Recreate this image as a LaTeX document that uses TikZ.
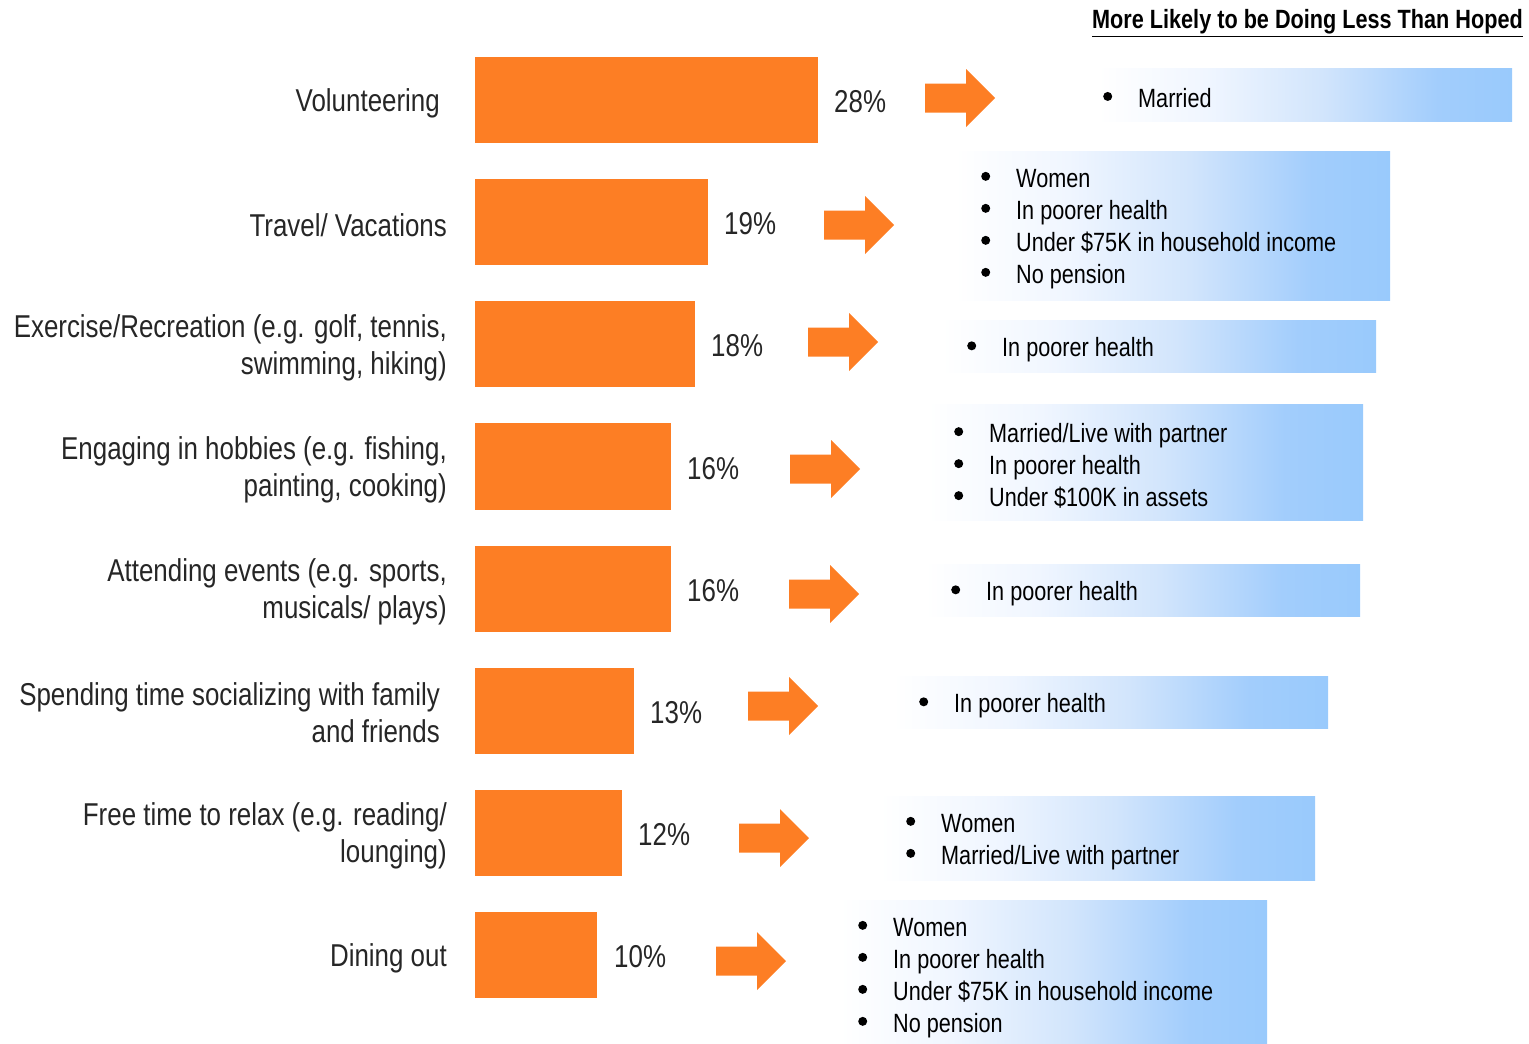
\documentclass[tikz,border=0pt]{standalone}
\usepackage{fontspec}
\setmainfont{Liberation Sans}[FakeStretch=0.82]
\definecolor{barorange}{RGB}{253,126,36}
\definecolor{labelgray}{RGB}{38,38,38}
\definecolor{lbA}{RGB}{240,246,255}
\definecolor{lbB}{RGB}{210,229,252}
\definecolor{lbC}{RGB}{162,205,252}
\definecolor{lbD}{RGB}{153,202,252}
\pgfdeclarehorizontalshading{bluefade}{100bp}{color(0bp)=(white); color(25bp)=(white); color(38bp)=(lbA); color(52bp)=(lbB); color(66bp)=(lbC); color(75bp)=(lbD); color(100bp)=(lbD)}
\tikzset{
  barfill/.style={fill=barorange, draw=none},
  actlabel/.style={anchor=east, align=right, inner sep=0pt, text=labelgray, font=\fontsize{31.6}{37}\selectfont},
  pctlabel/.style={anchor=west, inner sep=0pt, text=labelgray, font=\fontsize{31.6}{37}\selectfont},
  bullist/.style={anchor=west, align=left, inner sep=0pt, text=black, font=\fontsize{26.4}{32}\selectfont},
  bluebox/.style={shading=bluefade, draw=none},
}
\newcommand\orangearrow[2]{%
  \fill[barorange] (#1,#2-14.5) -- (#1+41,#2-14.5) -- (#1+41,#2-29) -- (#1+70,#2) -- (#1+41,#2+29) -- (#1+41,#2+14.5) -- (#1,#2+14.5) -- cycle;}
\newcommand\bul{\makebox[35pt][l]{\raisebox{6.5pt}{\tikz\fill[black] (0pt,0pt) circle (4.5pt);}}}
\begin{document}
\begin{tikzpicture}[x=1pt,y=-1pt]
\useasboundingbox (0,0) rectangle (1529,1044);

% title
\node[anchor=east, inner sep=0pt, font=\bfseries\fontsize{26.4}{30}\selectfont] (title) at (1523,23) {\underline{More Likely to be Doing Less Than Hoped}};

% bars
\fill[barfill] (475,57) rectangle (818,143);
\fill[barfill] (475,179) rectangle (708,265);
\fill[barfill] (475,301) rectangle (695,387);
\fill[barfill] (475,423) rectangle (671,510);
\fill[barfill] (475,546) rectangle (671,632);
\fill[barfill] (475,668) rectangle (634,754);
\fill[barfill] (475,790) rectangle (622,876);
\fill[barfill] (475,912) rectangle (597,998);

% activity labels
\node[actlabel] (l1) at (440,103) {Volunteering};
\node[actlabel] (l2) at (447,225) {Travel/ Vacations};
\node[actlabel] (l3) at (447,347.5) {Exercise/Recreation (e.g. golf, tennis,\\swimming, hiking)};
\node[actlabel] (l4) at (447,470) {Engaging in hobbies (e.g. fishing,\\painting, cooking)};
\node[actlabel] (l5) at (447,592) {Attending events (e.g. sports,\\musicals/ plays)};
\node[actlabel] (l6) at (440,713) {Spending time socializing with family\\and friends};
\node[actlabel] (l7) at (447,836) {Free time to relax (e.g. reading/\\lounging)};
\node[actlabel] (l8) at (447,958) {Dining out};

% percentages
\node[pctlabel] (p1) at (834,102) {28\%};
\node[pctlabel] (p2) at (724,224) {19\%};
\node[pctlabel] (p3) at (711,346) {18\%};
\node[pctlabel] (p4) at (687,469) {16\%};
\node[pctlabel] (p5) at (687,591) {16\%};
\node[pctlabel] (p6) at (650,713) {13\%};
\node[pctlabel] (p7) at (638,835) {12\%};
\node[pctlabel] (p8) at (614,957) {10\%};

% arrows
\orangearrow{925}{98}
\orangearrow{824}{225}
\orangearrow{808}{342}
\orangearrow{790}{469}
\orangearrow{789}{594}
\orangearrow{748}{706}
\orangearrow{739}{838}
\orangearrow{716}{961}

% blue boxes
\shade[bluebox] (1098,68) rectangle (1512,121);
\shade[bluebox] (955,151) rectangle (1390,300);
\shade[bluebox] (942,320) rectangle (1376,372);
\shade[bluebox] (928,404) rectangle (1363,520);
\shade[bluebox] (925,564) rectangle (1360,616);
\shade[bluebox] (893,676) rectangle (1328,728);
\shade[bluebox] (880,796) rectangle (1315,880);
\shade[bluebox] (840,900) rectangle (1267,1043);

% bullet lists
\node[bullist] (t1) at (1103,98) {\bul Married};
\node[bullist] (t2) at (981,229) {\bul Women\\\bul In poorer health\\\bul Under \$75K in household income\\\bul No pension};
\node[bullist] (t3) at (967,350) {\bul In poorer health};
\node[bullist] (t4) at (954,466) {\bul Married/Live with partner\\\bul In poorer health\\\bul Under \$100K in assets};
\node[bullist] (t5) at (951,594) {\bul In poorer health};
\node[bullist] (t6) at (919,706) {\bul In poorer health};
\node[bullist] (t7) at (906,842) {\bul Women\\\bul Married/Live with partner};
\node[bullist] (t8) at (858,978) {\bul Women\\\bul In poorer health\\\bul Under \$75K in household income\\\bul No pension};
\end{tikzpicture}
\end{document}
